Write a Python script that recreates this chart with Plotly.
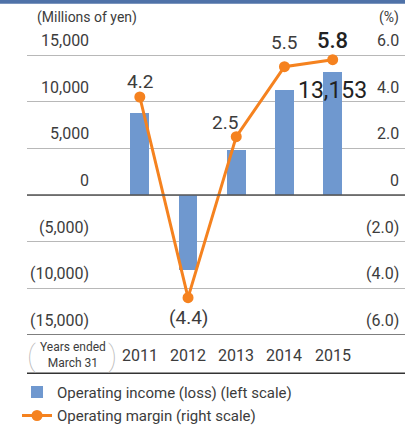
import plotly.graph_objects as go

years = ["2011", "2012", "2013", "2014", "2015"]
income = [8800, -8000, 4800, 11200, 13153]
margin = [4.2, -4.4, 2.5, 5.5, 5.8]
margin_labels = ["4.2", "(4.4)", "2.5", "5.5", "5.8"]
left_ticks = [15000, 10000, 5000, 0, -5000, -10000, -15000]
left_labels = ["15,000", "10,000", "5,000", "0", "(5,000)", "(10,000)", "(15,000)"]
right_ticks = [6, 4, 2, 0, -2, -4, -6]
right_labels = ["6.0", "4.0", "2.0", "0", "(2.0)", "(4.0)", "(6.0)"]

FONT = "Roboto"
TXT = "#3c3c3c"
BAR = "#6f98cf"
ORANGE = "#f5821f"

fig = go.Figure()
fig.add_trace(go.Bar(x=years, y=income, width=0.39, marker=dict(color=BAR, line=dict(width=0)),
                     name="Operating income (loss) (left scale)", legendgroup="a"))
fig.add_trace(go.Scatter(x=years, y=margin, yaxis="y2", mode="lines+markers",
                         line=dict(color=ORANGE, width=3), marker=dict(size=11, color=ORANGE),
                         name="Operating margin (right scale)", legendgroup="b"))

# tick labels sit above the gridlines
for v, t in zip(left_ticks, left_labels):
    fig.add_annotation(x=0.168, xref="paper", y=v, yref="y", text=t, showarrow=False,
                       xanchor="right", yanchor="bottom", yshift=3,
                       font=dict(family=FONT, size=16, color=TXT))
for v, t in zip(right_ticks, right_labels):
    fig.add_annotation(x=0.99, xref="paper", y=v, yref="y2", text=t, showarrow=False,
                       xanchor="right", yanchor="bottom", yshift=3,
                       font=dict(family=FONT, size=16, color=TXT))

# margin labels (category axis -> index positions)
offsets = [(0, 15), (0, -20), (-11, 14), (0, 24), (0, 19)]
for i, (y, t) in enumerate(zip(margin, margin_labels)):
    big = i == 4
    fig.add_annotation(x=i, y=y, yref="y2", text=t, showarrow=False,
                       xanchor="center", yanchor="middle",
                       xshift=offsets[i][0], yshift=offsets[i][1],
                       font=dict(family=FONT, size=22 if big else 19, color="#222" if big else TXT,
                                 weight=500 if big else 400))
fig.add_annotation(x=4, y=income[4], text="13,153", showarrow=False,
                   xanchor="center", yanchor="middle", yshift=-18,
                   font=dict(family=FONT, size=23, color="#222"))

# year labels
for i, y in enumerate(years):
    fig.add_annotation(x=i, y=-0.066, yref="paper", text=y, showarrow=False,
                       xanchor="center", yanchor="middle",
                       font=dict(family=FONT, size=16, color=TXT))
fig.add_annotation(x=0.122, y=-0.066, xref="paper", yref="paper", text="Years ended<br>March 31",
                   showarrow=False, xanchor="center", yanchor="middle",
                   font=dict(family=FONT, size=12, color=TXT))
fig.add_annotation(x=0.012, y=-0.066, xref="paper", yref="paper", text="(", showarrow=False,
                   xanchor="center", yanchor="middle",
                   font=dict(family=FONT, size=30, color="#b8b8b8", weight=100))
fig.add_annotation(x=0.225, y=-0.066, xref="paper", yref="paper", text=")", showarrow=False,
                   xanchor="center", yanchor="middle",
                   font=dict(family=FONT, size=30, color="#b8b8b8", weight=100))

fig.add_annotation(x=0.021, y=1.0, xref="paper", yref="paper", text="(Millions of yen)",
                   showarrow=False, xanchor="left", yanchor="bottom", yshift=2,
                   font=dict(family=FONT, size=14, color=TXT))
fig.add_annotation(x=0.99, y=1.0, xref="paper", yref="paper", text="(%)",
                   showarrow=False, xanchor="right", yanchor="bottom", yshift=2,
                   font=dict(family=FONT, size=14, color=TXT))

# top band, zero line, bottom lines
fig.add_shape(type="rect", xref="paper", yref="paper", x0=-0.1, x1=1.1, y0=1.086, y1=1.15,
              fillcolor="#4f72a8", line=dict(width=0), layer="above")
fig.add_shape(type="line", xref="paper", yref="y", x0=0, x1=1, y0=0, y1=0,
              line=dict(color="#555", width=1.5))
fig.add_shape(type="line", xref="paper", yref="y", x0=0, x1=1, y0=-15000, y1=-15000,
              line=dict(color="#555", width=1.5))
fig.add_shape(type="line", xref="paper", yref="paper", x0=0, x1=1, y0=-0.125, y1=-0.125,
              line=dict(color="#333", width=1.5))

fig.update_layout(
    width=405, height=427,
    margin=dict(l=27, r=0, t=30, b=92, autoexpand=False),
    plot_bgcolor="white", paper_bgcolor="white",
    showlegend=True,
    legend=dict(x=0.042, xref="container", y=0.12, yref="container",
                xanchor="left", yanchor="top", orientation="v",
                font=dict(family=FONT, size=15, color=TXT), bgcolor="rgba(0,0,0,0)",
                tracegroupgap=1),
    xaxis=dict(type="category", range=[-2.34, 5.5], showticklabels=False, showgrid=False,
               zeroline=False, showline=False, ticks=""),
    yaxis=dict(range=[-15000, 17679], tickvals=left_ticks, showticklabels=False,
               gridcolor="#b8b8b8", gridwidth=1.2, zeroline=False),
    yaxis2=dict(range=[-6, 7.071], overlaying="y", side="right", showticklabels=False,
                showgrid=False, zeroline=False),
    bargap=0,
)

fig.write_html("out.html", config={"displayModeBar": False},
               post_script="document.body.style.margin='0';")
